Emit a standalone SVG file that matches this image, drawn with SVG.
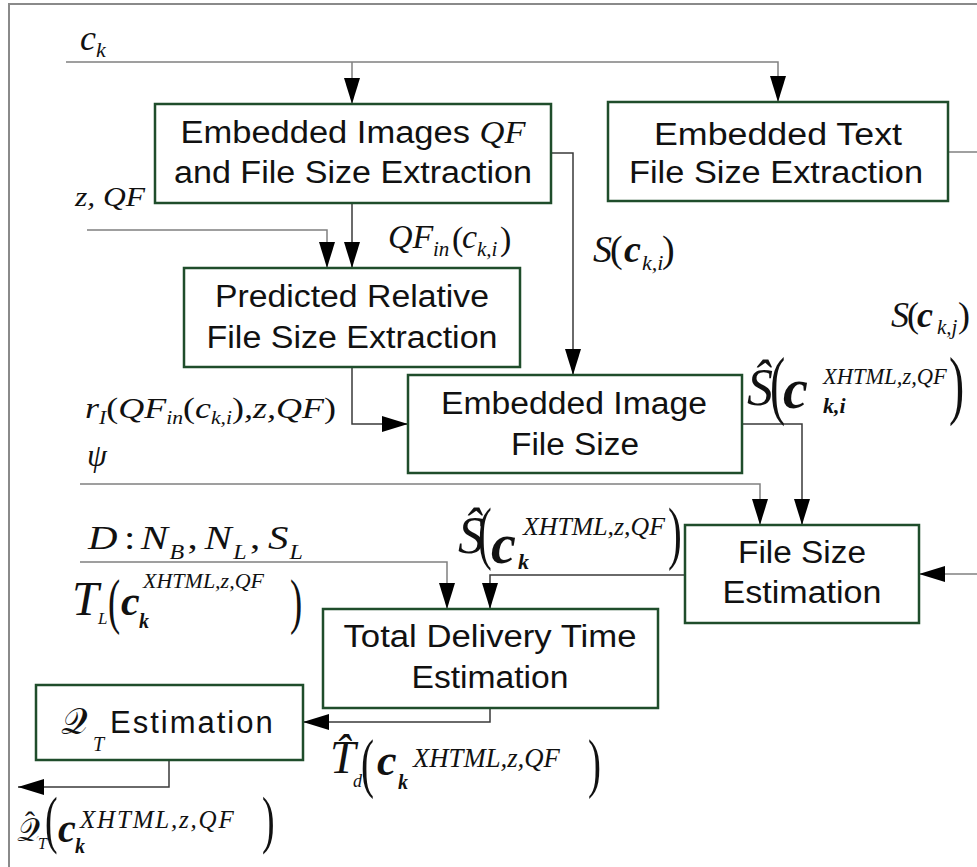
<svg xmlns="http://www.w3.org/2000/svg" width="977" height="867" viewBox="0 0 977 867">
<defs>
<style>
.frame{fill:none;stroke:#8a8a8a;stroke-width:2}
.box{fill:#fff;stroke:#1f4d2b;stroke-width:2.5}
.t{font-family:"Liberation Sans",Arial,sans-serif;font-size:31px;fill:#111;text-anchor:middle}
.sans{font-family:"Liberation Sans",Arial,sans-serif;font-style:normal}
.m{font-family:"Liberation Serif","Times New Roman",serif;font-style:italic;fill:#111}
.up{font-style:normal}
.b{font-weight:bold}
.w{fill:none;stroke:#808080;stroke-width:1.5}
.c{fill:none;stroke:#3a3a3a;stroke-width:1.5}
.cal{font-family:"DejaVu Serif","DejaVu Sans","Liberation Serif",serif;font-style:normal}
</style>
<marker id="ah" markerWidth="26" markerHeight="16" refX="26" refY="8" orient="auto" markerUnits="userSpaceOnUse">
<path d="M0,0 L26,8 L0,16 Z" fill="#000"/>
</marker>
</defs>
<rect x="0" y="0" width="977" height="867" fill="#fff"/>
<path class="frame" d="M9,867 V4 H977"/>

<g id="connectors">
<path class="w" d="M66,62 H778 V102" marker-end="url(#ah)"/>
<path class="w" d="M352,62 V104" marker-end="url(#ah)"/>
<path class="c" d="M551,153 H573 V375" marker-end="url(#ah)"/>
<path class="c" d="M352,203 V268" marker-end="url(#ah)"/>
<path class="w" d="M87,230 H327 V268" marker-end="url(#ah)"/>
<path class="c" d="M352,367 V424 H408" marker-end="url(#ah)"/>
<path class="w" d="M948,152 H977"/>
<path class="c" d="M742,424 H802 V525" marker-end="url(#ah)"/>
<path class="w" d="M80,484 H760 V525" marker-end="url(#ah)"/>
<path class="w" d="M977,574 H919" marker-end="url(#ah)"/>
<path class="c" d="M685,575 H490 V609" marker-end="url(#ah)"/>
<path class="w" d="M80,562 H447 V609" marker-end="url(#ah)"/>
<path class="c" d="M490,708 V722 H303" marker-end="url(#ah)"/>
<path class="c" d="M169,760 V787 H18" marker-end="url(#ah)"/>
</g>

<g id="box-images">
<rect class="box" x="155" y="104" width="396" height="99"/>
<text class="t" x="353" y="143" textLength="345" lengthAdjust="spacingAndGlyphs">Embedded Images <tspan class="m">QF</tspan></text>
<text class="t" x="353" y="183" textLength="358" lengthAdjust="spacingAndGlyphs">and File Size Extraction</text>
</g>

<g id="box-text">
<rect class="box" x="608" y="102" width="340" height="99"/>
<text class="t" x="778" y="145" textLength="248" lengthAdjust="spacingAndGlyphs">Embedded Text</text>
<text class="t" x="776" y="183" textLength="294" lengthAdjust="spacingAndGlyphs">File Size Extraction</text>
</g>

<g id="box-predicted">
<rect class="box" x="184" y="268" width="336" height="99"/>
<text class="t" x="352" y="307" textLength="274" lengthAdjust="spacingAndGlyphs">Predicted Relative</text>
<text class="t" x="352" y="348" textLength="291" lengthAdjust="spacingAndGlyphs">File Size Extraction</text>
</g>

<g id="box-imagesize">
<rect class="box" x="408" y="375" width="334" height="98"/>
<text class="t" x="574" y="414" textLength="266" lengthAdjust="spacingAndGlyphs">Embedded Image</text>
<text class="t" x="575" y="455" textLength="128" lengthAdjust="spacingAndGlyphs">File Size</text>
</g>

<g id="box-filesize">
<rect class="box" x="685" y="525" width="234" height="98"/>
<text class="t" x="802" y="563" textLength="128" lengthAdjust="spacingAndGlyphs">File Size</text>
<text class="t" x="802" y="603" textLength="159" lengthAdjust="spacingAndGlyphs">Estimation</text>
</g>

<g id="box-delivery">
<rect class="box" x="323" y="609" width="335" height="99"/>
<text class="t" x="490" y="647" textLength="293" lengthAdjust="spacingAndGlyphs">Total Delivery Time</text>
<text class="t" x="490" y="688" textLength="157" lengthAdjust="spacingAndGlyphs">Estimation</text>
</g>

<g id="box-qt">
<rect class="box" x="36" y="685" width="267" height="75"/>
<text class="m"><tspan class="cal" x="61" y="734" font-size="37">𝒬</tspan><tspan x="93" y="751" font-size="20">T</tspan><tspan class="sans" x="110" y="733" font-size="31" letter-spacing="2">Estimation</tspan></text>
</g>

<g id="labels">
<text class="m"><tspan x="80" y="50" font-size="36">c</tspan><tspan x="96" y="57" font-size="22">k</tspan></text>
<text class="m" x="75" y="206" font-size="27" textLength="70" lengthAdjust="spacingAndGlyphs">z, QF</text>
<text class="m"><tspan x="388" y="248" font-size="34">QF</tspan><tspan x="433" y="256" font-size="21">in</tspan><tspan class="up" x="452" y="250" font-size="34">(</tspan><tspan x="462" y="248" font-size="34">c</tspan><tspan x="477" y="256" font-size="21">k,i</tspan><tspan class="up" x="500" y="250" font-size="34">)</tspan></text>
<text class="m"><tspan x="593" y="262" font-size="38">S</tspan><tspan class="up" x="610" y="262" font-size="38">(</tspan><tspan class="b" x="624" y="262" font-size="38">c</tspan><tspan x="642" y="270" font-size="22">k,i</tspan><tspan class="up" x="662" y="262" font-size="38">)</tspan></text>
<text class="m"><tspan x="891" y="327" font-size="36">S</tspan><tspan class="up" x="907" y="327" font-size="36">(</tspan><tspan class="b" x="917" y="327" font-size="36">c</tspan><tspan x="937" y="334" font-size="21">k,j</tspan><tspan class="up" x="958" y="327" font-size="36">)</tspan></text>
<text class="m" font-size="30" transform="translate(85,418) scale(1.2,1)">r<tspan dy="6" font-size="18">I</tspan><tspan class="up" dy="-6">(</tspan>QF<tspan dy="6" font-size="18">in</tspan><tspan class="up" dy="-6">(</tspan>c<tspan dy="6" font-size="18">k,i</tspan><tspan class="up" dy="-6">)</tspan>,z,QF<tspan class="up">)</tspan></text>
<text class="m" x="87" y="466" font-size="32">ψ</text>

<text class="m"><tspan x="747" y="405" font-size="52">Ŝ</tspan><tspan class="b" x="783" y="408" font-size="56">c</tspan><tspan x="823" y="384" font-size="22.5">XHTML,z,QF</tspan><tspan class="b" x="823" y="413" font-size="22">k,i</tspan></text>
<text class="m up" font-size="76" transform="translate(770,409.6) scale(0.6,1)">(</text>
<text class="m up" font-size="76" transform="translate(949,409.6) scale(0.6,1)">)</text>

<text class="m"><tspan x="458" y="553" font-size="52">Ŝ</tspan><tspan class="b" x="491" y="563" font-size="56">c</tspan><tspan class="b" x="518" y="569" font-size="22">k</tspan><tspan x="523" y="535" font-size="25.8">XHTML,z,QF</tspan></text>
<text class="m up" font-size="69" transform="translate(478,555.8) scale(0.6,1)">(</text>
<text class="m up" font-size="69" transform="translate(668,555.8) scale(0.6,1)">)</text>

<text class="m" font-size="34" transform="translate(88,549) scale(1.2,1)"><tspan x="0" y="0">D</tspan><tspan class="up" x="30" y="0">:</tspan><tspan x="44" y="0">N</tspan><tspan x="68" y="10" font-size="20">B</tspan><tspan class="up" x="83" y="0">,</tspan><tspan x="97" y="0">N</tspan><tspan x="121" y="10" font-size="20">L</tspan><tspan class="up" x="135" y="0">,</tspan><tspan x="150" y="0">S</tspan><tspan x="168" y="10" font-size="20">L</tspan></text>

<text class="m"><tspan x="72" y="615" font-size="48">T</tspan><tspan x="98" y="624" font-size="17">L</tspan><tspan class="b" x="121" y="615" font-size="42">c</tspan><tspan class="b" x="139" y="628" font-size="20">k</tspan><tspan x="143" y="588" font-size="22">XHTML,z,QF</tspan></text>
<text class="m up" font-size="61" transform="translate(108,622.2) scale(0.6,1)">(</text>
<text class="m up" font-size="61" transform="translate(290,622.2) scale(0.6,1)">)</text>

<text class="m"><tspan x="330" y="773" font-size="46">T̂</tspan><tspan x="353" y="787" font-size="18">d</tspan><tspan class="b" x="377" y="775" font-size="44">c</tspan><tspan class="b" x="398" y="789" font-size="20">k</tspan><tspan x="413" y="767" font-size="26.7">XHTML,z,QF</tspan></text>
<text class="m up" font-size="65" transform="translate(361,785.4) scale(0.6,1)">(</text>
<text class="m up" font-size="65" transform="translate(588,785.4) scale(0.6,1)">)</text>

<text class="m"><tspan class="cal" x="17" y="841" font-size="32">𝒬</tspan><tspan x="38" y="849" font-size="16">T</tspan><tspan class="b" x="58" y="842" font-size="40">c</tspan><tspan class="b" x="75" y="853" font-size="20">k</tspan><tspan x="80" y="828" font-size="25" letter-spacing="1.8">XHTML,z,QF</tspan></text>
<text class="m up" x="30" y="832" font-size="30" text-anchor="middle">ˆ</text>
<text class="m up" font-size="63" transform="translate(45,840.8) scale(0.6,1)">(</text>
<text class="m up" font-size="63" transform="translate(262,840.8) scale(0.6,1)">)</text>
</g>
</svg>
